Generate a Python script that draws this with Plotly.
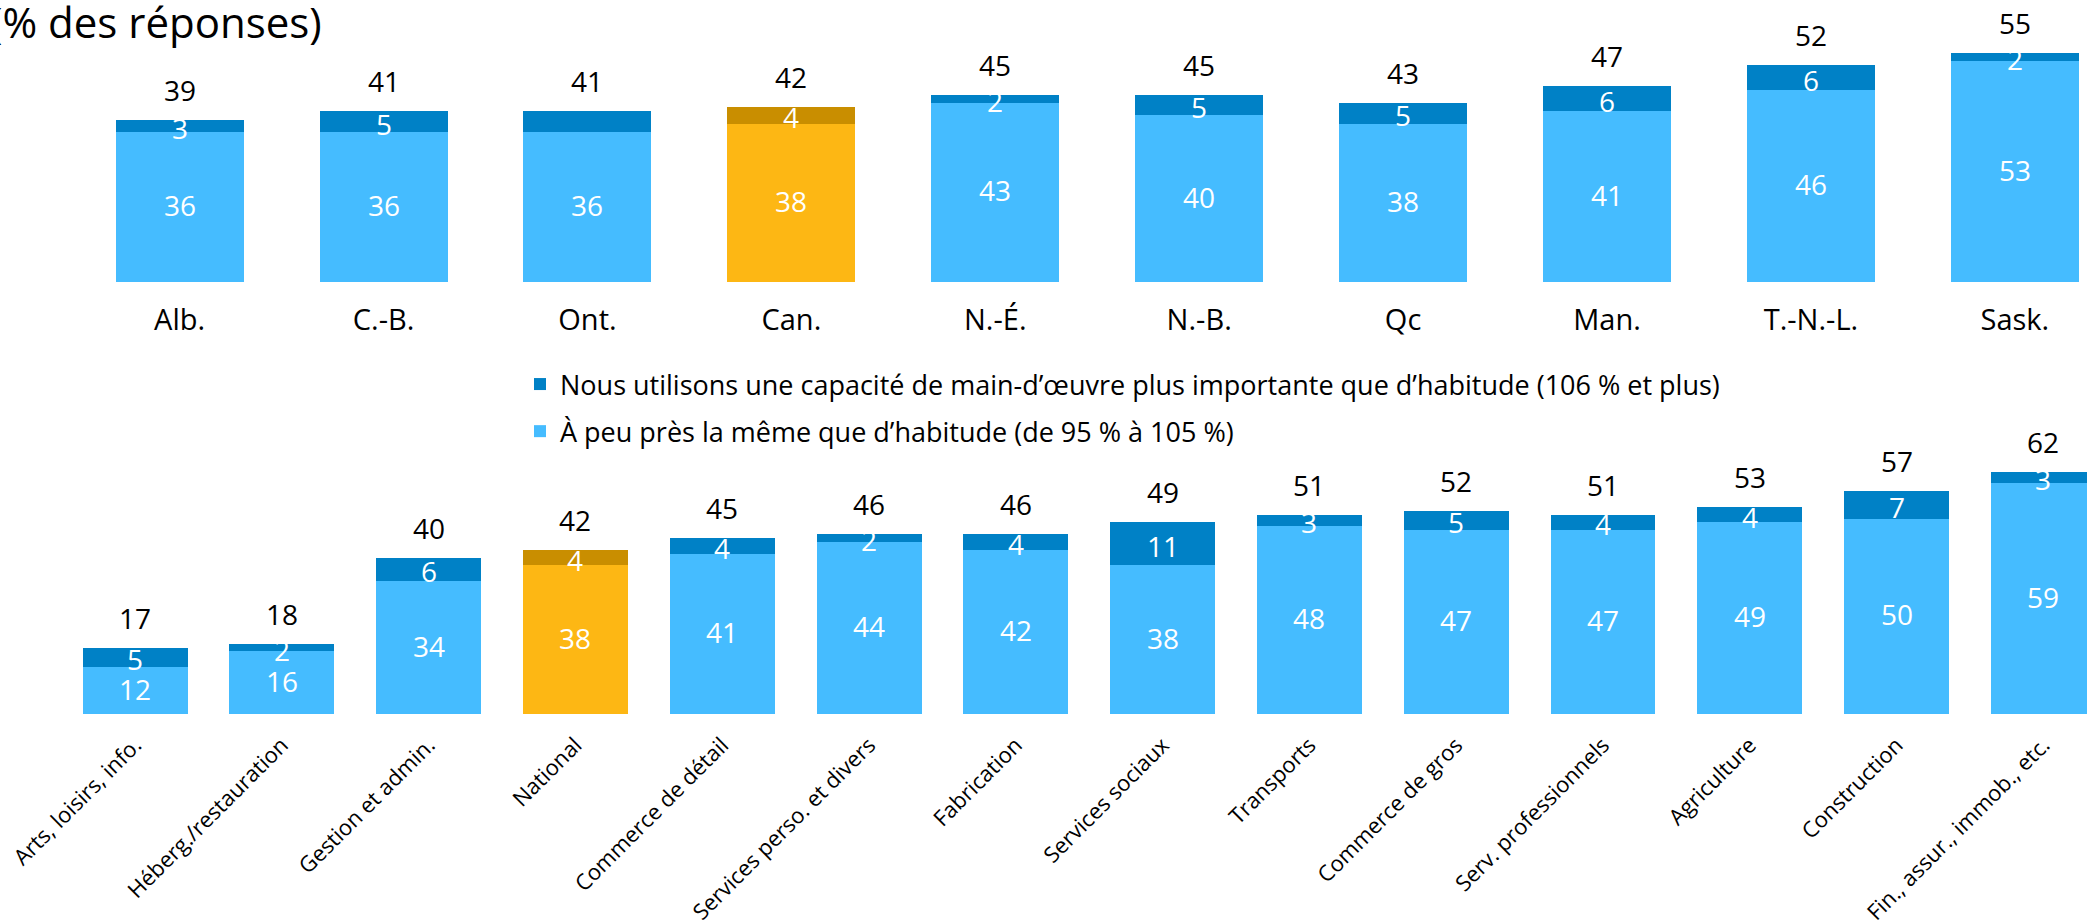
import plotly.graph_objects as go

# ---------------- data ----------------
provinces = ["Alb.", "C.-B.", "Ont.", "Can.", "N.-É.", "N.-B.", "Qc", "Man.", "T.-N.-L.", "Sask."]
prov_same = [36, 36, 36, 38, 43, 40, 38, 41, 46, 53]
prov_more = [3, 5, 5, 4, 2, 5, 5, 6, 6, 2]
prov_total = [39, 41, 41, 42, 45, 45, 43, 47, 52, 55]
prov_hidden_more_label = ["Ont."]

sectors = ["Arts, loisirs, info.", "Héberg./restauration", "Gestion et admin.", "National",
           "Commerce de détail", "Services perso. et divers", "Fabrication", "Services sociaux",
           "Transports", "Commerce de gros", "Serv. professionnels", "Agriculture",
           "Construction", "Fin., assur., immob., etc."]
sect_same = [12, 16, 34, 38, 41, 44, 42, 38, 48, 47, 47, 49, 50, 59]
sect_more = [5, 2, 6, 4, 4, 2, 4, 11, 3, 5, 4, 4, 7, 3]
sect_total = [17, 18, 40, 42, 45, 46, 46, 49, 51, 52, 51, 53, 57, 62]

highlight = ["Can.", "National"]

name_more = "Nous utilisons une capacité de main-d’œuvre plus importante que d’habitude (106 % et plus)"
name_same = "À peu près la même que d’habitude (de 95 % à 105 %)"
title_text = "(% des réponses)"

# ---------------- style ----------------
FONT = "Open Sans"
C_SAME = "#45BCFF"
C_MORE = "#0081C6"
C_GOLD = "#FDB714"
C_GOLD_D = "#C98E00"

W, H = 2087, 921

def colors(cats, base, hi):
    return [hi if c in highlight else base for c in cats]

fig = go.Figure()

panels = [
    dict(cats=provinces, same=prov_same, more=prov_more, total=prov_total,
         hidden=prov_hidden_more_label, xa="x", ya="y", width=0.628, legend=True),
    dict(cats=sectors, same=sect_same, more=sect_more, total=sect_total,
         hidden=[], xa="x2", ya="y2", width=0.715, legend=False),
]

annotations = []
for p in panels:
    fig.add_trace(go.Bar(
        x=p["cats"], y=p["same"], name=name_same, legendgroup="same", legendrank=2,
        showlegend=p["legend"], width=p["width"],
        marker=dict(color=colors(p["cats"], C_SAME, C_GOLD), line=dict(width=0)),
        xaxis=p["xa"], yaxis=p["ya"], hoverinfo="skip"))
    fig.add_trace(go.Bar(
        x=p["cats"], y=p["more"], name=name_more, legendgroup="more", legendrank=1,
        showlegend=p["legend"], width=p["width"],
        marker=dict(color=colors(p["cats"], C_MORE, C_GOLD_D), line=dict(width=0)),
        xaxis=p["xa"], yaxis=p["ya"], hoverinfo="skip"))
    for c, s, m, t in zip(p["cats"], p["same"], p["more"], p["total"]):
        annotations.append(dict(x=c, y=s / 2, xref=p["xa"], yref=p["ya"], text=str(s),
                                showarrow=False, yanchor="middle", yshift=2,
                                font=dict(family=FONT, size=28, color="white")))
        if c not in p["hidden"]:
            annotations.append(dict(x=c, y=s + m / 2, xref=p["xa"], yref=p["ya"], text=str(m),
                                    showarrow=False, yanchor="middle", yshift=-2,
                                    font=dict(family=FONT, size=28, color="white")))
        annotations.append(dict(x=c, y=s + m, xref=p["xa"], yref=p["ya"], text=str(t),
                                showarrow=False, yanchor="bottom", yshift=9,
                                font=dict(family=FONT, size=28, color="black")))

annotations.append(dict(x=324 / W, y=1, xref="paper", yref="paper", text=title_text,
                        showarrow=False, xanchor="right", yanchor="top", yshift=9,
                        font=dict(family=FONT, size=42, color="black")))

fig.update_layout(
    template="none",
    width=W, height=H,
    margin=dict(l=0, r=0, t=0, b=0, autoexpand=False),
    paper_bgcolor="white", plot_bgcolor="white",
    barmode="stack",
    font=dict(family=FONT, color="black"),
    annotations=annotations,
    showlegend=True,
    legend=dict(x=520 / W, y=(H - 360) / H, xanchor="left", yanchor="top",
                traceorder="grouped", tracegroupgap=9,
                font=dict(family=FONT, size=27, color="black"),
                bgcolor="rgba(0,0,0,0)"),
    xaxis=dict(domain=[0, 1], anchor="y", type="category", range=[-0.881, 9.354],
               showline=False, showgrid=False, zeroline=False, ticks="",
               ticklabelstandoff=18,
               tickfont=dict(family=FONT, size=29, color="black"), automargin=False),
    yaxis=dict(domain=[(H - 282) / H, 1.0], anchor="x", range=[0, 282 / 4.165],
               visible=False, showgrid=False, zeroline=False),
    xaxis2=dict(domain=[0, 1], anchor="y2", type="category", range=[-0.920, 13.297],
                showline=False, showgrid=False, zeroline=False, ticks="", tickangle=-45,
                ticklabelstandoff=13,
                tickfont=dict(family=FONT, size=22, color="black"), automargin=False),
    yaxis2=dict(domain=[(H - 714) / H, (H - 450) / H], anchor="x2", range=[0, (714 - 450) / 3.91],
                visible=False, showgrid=False, zeroline=False),
)

fig.write_html("out.html", config={"displayModeBar": False},
               post_script="document.body.style.margin='0px';document.body.style.overflow='hidden';")
